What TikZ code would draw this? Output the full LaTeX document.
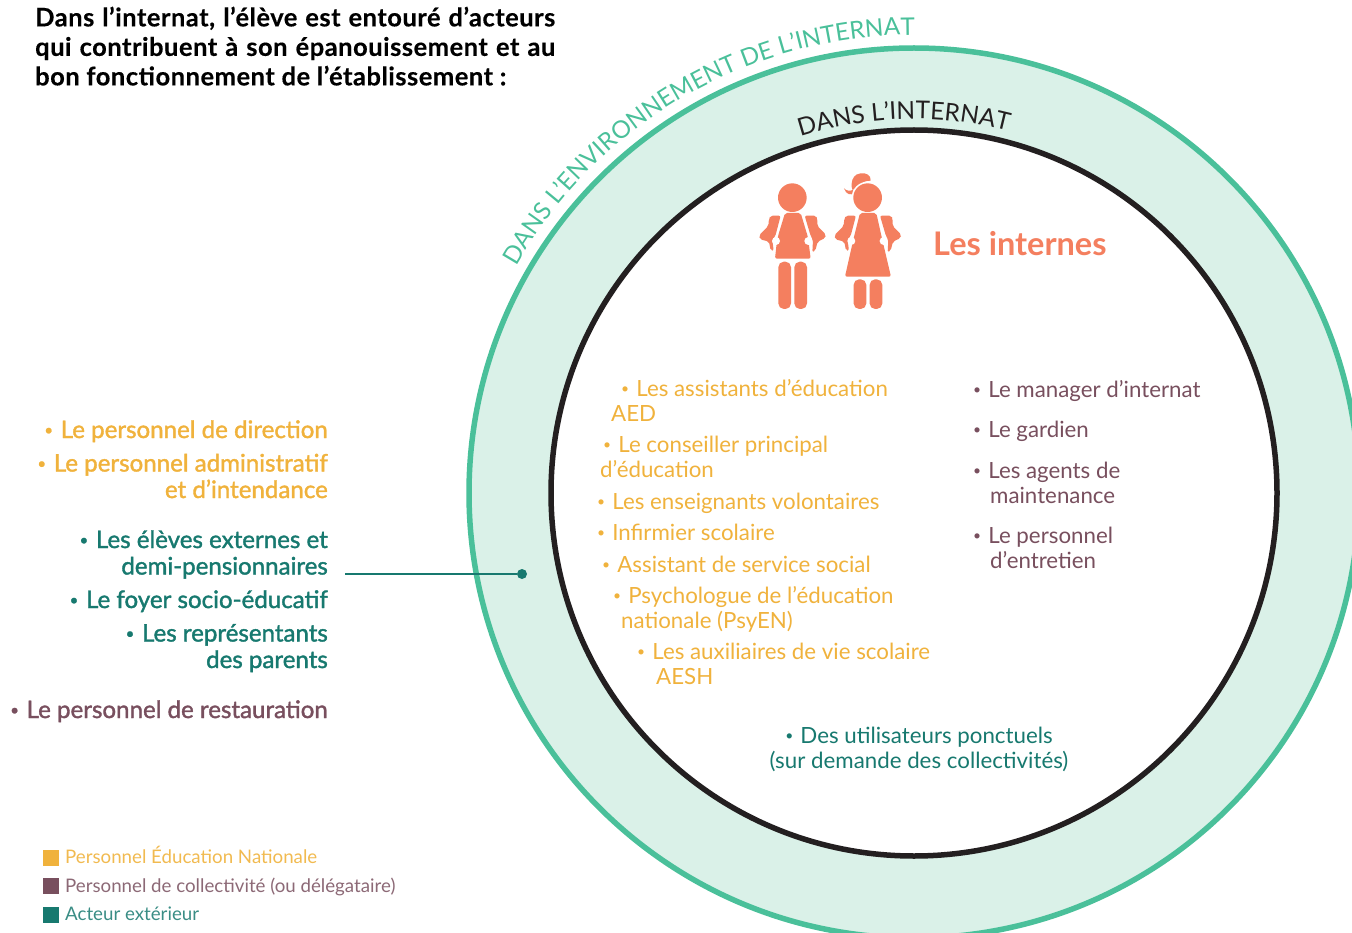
\documentclass[tikz,border=0pt]{standalone}
\usepackage{fontspec}
\setmainfont{Lato}
\newfontfamily\semib[FakeBold=1.5]{Lato}
\newfontfamily\titlef[LetterSpace=2,FakeBold=0.3]{Lato Bold}
\usetikzlibrary{decorations.text}
\definecolor{edn}{HTML}{F0B23C}
\definecolor{coll}{HTML}{784F5E}
\definecolor{ext}{HTML}{17796F}
\definecolor{ringg}{HTML}{4AC09A}
\definecolor{ringf}{HTML}{DAF1E8}
\definecolor{coral}{HTML}{F47F5F}
\definecolor{ink}{HTML}{231F20}
\newcommand{\bl}{\raisebox{.12em}{\scalebox{.62}{•}}\hspace{.32em}}
\tikzset{
  leftitem/.style={anchor=base east,align=right,inner sep=0pt,font=\semib\fontsize{24.1}{26.5}\selectfont},
  initem/.style={anchor=base west,align=left,inner sep=0pt,font=\fontsize{22.3}{24.4}\selectfont},
  legtext/.style={anchor=base west,inner sep=0pt,font=\fontsize{18.7}{20}\selectfont},
  legsq/.style={minimum size=16pt,inner sep=0pt,anchor=north west},
}
\newcommand{\kid}[3]{%
  \begin{scope}[shift={(#1,#2)},x=0.3333pt,y=-0.3333pt,fill=coral,draw=none]
    #3
    % left arm
    \fill[rounded corners=2pt] (92,167) -- (122,167) -- (106,228) -- (97,240) -- (101,272) -- (92,272) -- (87,245) -- (60,238) -- (57,226) -- (85,198) -- (87,176) -- cycle;
    % right arm
    \fill[rounded corners=2pt] (228,167) -- (194,167) -- (212,228) -- (219,240) -- (217,277) -- (226,272) -- (233,245) -- (256,234) -- (258,224) -- (232,198) -- (232,176) -- cycle;
    \fill[white] (108,243) circle (12);
    \fill[white] (205,243) circle (12);
  \end{scope}
}
\begin{document}
\begin{tikzpicture}[x=1pt,y=-1pt]
\useasboundingbox (0,0) rectangle (1352,933);
\clip (0,0) rectangle (1352,933);
% rings
\fill[ringf] (914,493) circle (445);
\draw[ringg,line width=5.5pt] (914,493) circle (445);
\fill[white] (914,493) circle (363);
\draw[ink,line width=5.5pt] (914,493) circle (363);
% arc labels
\path[postaction={decorate},decoration={text along path,text align=left,
  text={|\fontsize{24.3}{26}\selectfont\color{ringg}|DANS L’ENVIRONNEMENT DE L’INTERNAT}}]
  (914,493) ++(150.3:458 and -458) arc[start angle=-150.3,end angle=-88,radius=458];
\path[postaction={decorate},decoration={text along path,text align=left,
  text={|\fontsize{24.5}{26}\selectfont\color{ink}|DANS L’INTERNAT}}]
  (914,493) ++(107.7:374 and -374) arc[start angle=-107.7,end angle=-72,radius=374];
% title
\node[anchor=north west,align=left,inner sep=0pt,font=\titlef\fontsize{25.5}{29.5}\selectfont] (title) at (35,6.5)
  {\makebox[520pt][s]{Dans l’internat, l’élève est entouré d’acteurs}\\
   \makebox[520pt][s]{qui contribuent à son épanouissement et au}\\
   bon fonctionnement de l’établissement :};
% figures
\kid{740}{160}{
  \fill (157,113) circle (43);
  \fill[rounded corners=2pt] (135,159) -- (182,159) -- (204,232) -- (212,296) -- (105,296) -- (110,250) -- (115,225) -- cycle;
  \fill[rounded corners=5.5pt] (115,305) -- (153,305) -- (153,447) -- (115,447) -- cycle;
  \fill[rounded corners=5.5pt] (163,305) -- (201,305) -- (201,447) -- (163,447) -- cycle;
}
\kid{815.3}{160}{
  \fill (135,75) .. controls (138,68) and (150,62) .. (166,62) .. controls (168,45) and (152,38) .. (136,40) .. controls (118,42) and (110,55) .. (109,72) .. controls (108,85) and (112,92) .. (118,98) .. controls (108,108) and (92,104) .. (86,85) .. controls (92,92) and (104,94) .. (112,90) -- cycle;
  \fill[white] (157,113) circle (48);
  \fill[coral] (157,113) circle (43);
  \fill[rounded corners=2pt] (134,159) -- (183,159) -- (200,235) -- (227,350) -- (89,350) -- (115,235) -- cycle;
  \fill[rounded corners=5.5pt] (115,358) -- (153,358) -- (153,447) -- (115,447) -- cycle;
  \fill[rounded corners=5.5pt] (163,358) -- (201,358) -- (201,447) -- (163,447) -- cycle;
}
\node[anchor=base west,inner sep=0pt,text=coral,font=\fontsize{32.5}{34}\selectfont\bfseries] (internes) at (933,256) {Les internes};
% left column
\node[leftitem,text=edn] (a1) at (328,438) {\bl Le personnel de direction};
\node[leftitem,text=edn] (a2) at (328,498) {\bl Le personnel administratif\\et d’intendance};
\node[leftitem,text=ext] (a3) at (328,574.5) {\bl Les élèves externes et\\demi-pensionnaires};
\node[leftitem,text=ext] (a4) at (328,608) {\bl Le foyer socio-éducatif};
\node[leftitem,text=ext] (a5) at (328,668) {\bl Les représentants\\des parents};
\node[leftitem,text=coll] (a6) at (328,718) {\bl Le personnel de restauration};
% connector
\coordinate (cstart) at (345,574);
\node[circle,fill=ext,inner sep=0pt,minimum size=10pt] (cdot) at (522,574) {};
\draw[ext,line width=2.2pt] (cstart) -- (cdot);
% inner orange
\node[initem,text=edn] (b1) at (611,421) {\hspace*{10pt}\bl Les assistants d’éducation\\AED};
\node[initem,text=edn] (b2) at (600,477) {\hspace*{3pt}\bl Le conseiller principal\\d’éducation};
\node[initem,text=edn] (b3) at (597,509) {\bl Les enseignants volontaires};
\node[initem,text=edn] (b4) at (597,540) {\bl Infirmier scolaire};
\node[initem,text=edn] (b5) at (602,572) {\bl Assistant de service social};
\node[initem,text=edn] (b6) at (613,628) {\bl Psychologue de l’éducation\\\hspace*{8pt}nationale (PsyEN)};
\node[initem,text=edn] (b7) at (637,684) {\bl Les auxiliaires de vie scolaire\\\hspace*{19pt}AESH};
% inner purple
\node[initem,text=coll] (c1) at (973,397) {\bl Le manager d’internat};
\node[initem,text=coll] (c2) at (973,437) {\bl Le gardien};
\node[initem,text=coll] (c3) at (973,503) {\bl Les agents de\\\hspace*{17pt}maintenance};
\node[initem,text=coll] (c4) at (973,568) {\bl Le personnel\\\hspace*{17pt}d’entretien};
% inner teal
\node[anchor=base,align=center,inner sep=0pt,font=\fontsize{22.3}{25}\selectfont,text=ext] (d1) at (919,768) {\bl Des utilisateurs ponctuels\\(sur demande des collectivités)};
% legend
\node[legsq,fill=edn] (l1) at (43,850) {};
\node[legsq,fill=coll] (l2) at (43,878) {};
\node[legsq,fill=ext] (l3) at (43,907) {};
\node[legtext,text=edn!90] (t1) at (65,863.5) {Personnel Éducation Nationale};
\node[legtext,text=coll!85] (t2) at (65,892.5) {Personnel de collectivité (ou délégataire)};
\node[legtext,text=ext!85] (t3) at (65,920.5) {Acteur extérieur};
\end{tikzpicture}
\end{document}
